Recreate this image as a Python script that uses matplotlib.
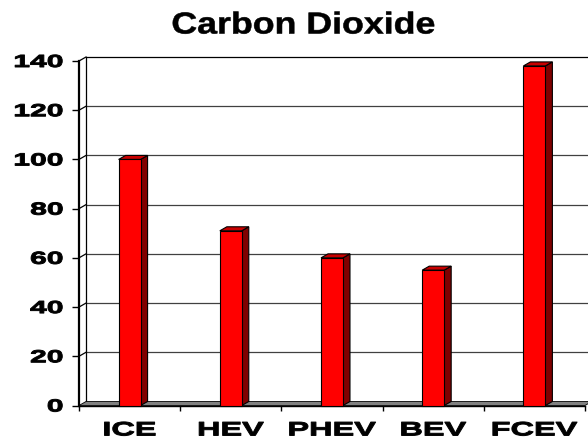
import matplotlib
matplotlib.use('Agg')
import matplotlib.pyplot as plt
from matplotlib.patches import Polygon, Rectangle
from matplotlib.transforms import Affine2D
from matplotlib.patheffects import AbstractPathEffect

categories = ['ICE', 'HEV', 'PHEV', 'BEV', 'FCEV']
values = [100, 71, 60, 55, 138]
yticks = [0, 20, 40, 60, 80, 100, 120, 140]
title = 'Carbon Dioxide'


class Stretch(AbstractPathEffect):
    """Horizontally stretch (and slightly embolden) text glyphs."""
    def __init__(self, sx, anchor='center', lw=0.0):
        super().__init__()
        self.sx = sx
        self.anchor = anchor
        self.lw = lw

    def draw_path(self, renderer, gc, tpath, affine, rgbFace=None):
        ext = tpath.get_extents()
        if self.anchor == 'right':
            cx = ext.x1
        elif self.anchor == 'left':
            cx = ext.x0
        else:
            cx = (ext.x0 + ext.x1) / 2
        t = Affine2D().translate(-cx, 0).scale(self.sx, 1).translate(cx, 0) + affine
        gc0 = renderer.new_gc()
        gc0.copy_properties(gc)
        if self.lw > 0 and rgbFace is not None:
            gc0.set_linewidth(self.lw)
            gc0.set_foreground(rgbFace)
            gc0.set_joinstyle('round')
        renderer.draw_path(gc0, tpath, t, rgbFace)
        gc0.restore()


plt.rcParams['font.family'] = ['Liberation Sans', 'DejaVu Sans']

W, H = 588, 442
fig = plt.figure(figsize=(W / 100, H / 100), dpi=100)
fig.patch.set_facecolor('white')

x0, x1 = 79, 585
y0, y1 = 405.5, 61
ax = fig.add_axes([x0 / W, (H - y0) / H, (x1 - x0) / W, (y0 - y1) / H])
n = len(categories)
ax.set_xlim(-0.5, n - 0.5)
ax.set_ylim(0, 140)
ax.patch.set_visible(False)

# depth offsets (data units) equal to ~7px right, 4px up
dx = 7 / ((x1 - x0) / n)
dy = 4 / ((y0 - y1) / 140)

left, right = -0.5, n - 0.5
# back wall
ax.add_patch(Rectangle((left + dx, dy), right - left, 140, facecolor='white',
                       edgecolor='none', clip_on=False, zorder=0.5))
for v in yticks[1:]:
    col = 'black' if v == yticks[-1] else '#404040'
    ax.plot([left + dx, right + dx], [v + dy, v + dy], color=col, lw=0.9,
            clip_on=False, zorder=0.6, solid_capstyle='butt')
    # side-wall gridline
    ax.plot([left, left + dx], [v, v + dy], color='black', lw=0.9,
            clip_on=False, zorder=0.6)
ax.plot([left + dx, left + dx], [dy, 140 + dy], color='black', lw=0.9,
        clip_on=False, zorder=0.6)

# floor
ax.add_patch(Polygon([(left, 0), (right, 0), (right + dx, dy), (left + dx, dy)],
                     closed=True, facecolor='#808080', edgecolor='black', lw=0.6,
                     clip_on=False, zorder=0.7))

# bars
bw = 0.217
for i, v in enumerate(values):
    xl, xr = i - bw / 2, i + bw / 2
    ax.add_patch(Polygon([(xr, 0), (xr + dx, dy), (xr + dx, v + dy), (xr, v)],
                         closed=True, facecolor='#800000', edgecolor='black',
                         lw=0.8, clip_on=False, zorder=3))
    ax.add_patch(Polygon([(xl, v), (xr, v), (xr + dx, v + dy), (xl + dx, v + dy)],
                         closed=True, facecolor='#C80000', edgecolor='black',
                         lw=0.8, clip_on=False, zorder=3))
    ax.add_patch(Rectangle((xl, 0), bw, v, facecolor='#FF0000',
                           edgecolor='black', lw=0.8, clip_on=False, zorder=3.1))

# spines
for s in ['top', 'right']:
    ax.spines[s].set_visible(False)
ax.spines['left'].set_linewidth(1.6)
ax.spines['bottom'].set_linewidth(1.0)
ax.spines['left'].set_zorder(4)
ax.spines['bottom'].set_zorder(2)

# ticks
ax.set_yticks(yticks)
ax.set_yticklabels([str(t) for t in yticks])
ax.tick_params(axis='y', direction='out', length=5, width=1, pad=6.5,
               labelsize=12.6, colors='black')
ax.set_xticks([k - 0.5 for k in range(n + 1)])
ax.set_xticklabels([''] * (n + 1))
ax.set_xticks(list(range(n)), minor=True)
ax.set_xticklabels(categories, minor=True)
ax.tick_params(axis='x', which='major', direction='out', length=3.6, width=1)
ax.tick_params(axis='x', which='minor', length=0, pad=12.2, labelsize=14)

for lab in ax.get_yticklabels():
    lab.set_fontweight('bold')
    lab.set_path_effects([Stretch(1.72, 'right', lw=0.7)])
for lab in ax.get_xticklabels(minor=True):
    lab.set_fontweight('bold')
    lab.set_path_effects([Stretch(1.67, 'center', lw=0.7)])

fig.text(303 / W, 1 - 33.5 / H, title, ha='center', va='baseline',
         fontsize=21.8, fontweight='bold',
         path_effects=[Stretch(1.18, 'center', lw=0.4)])

fig.savefig('out.png', dpi=100, facecolor='white')
